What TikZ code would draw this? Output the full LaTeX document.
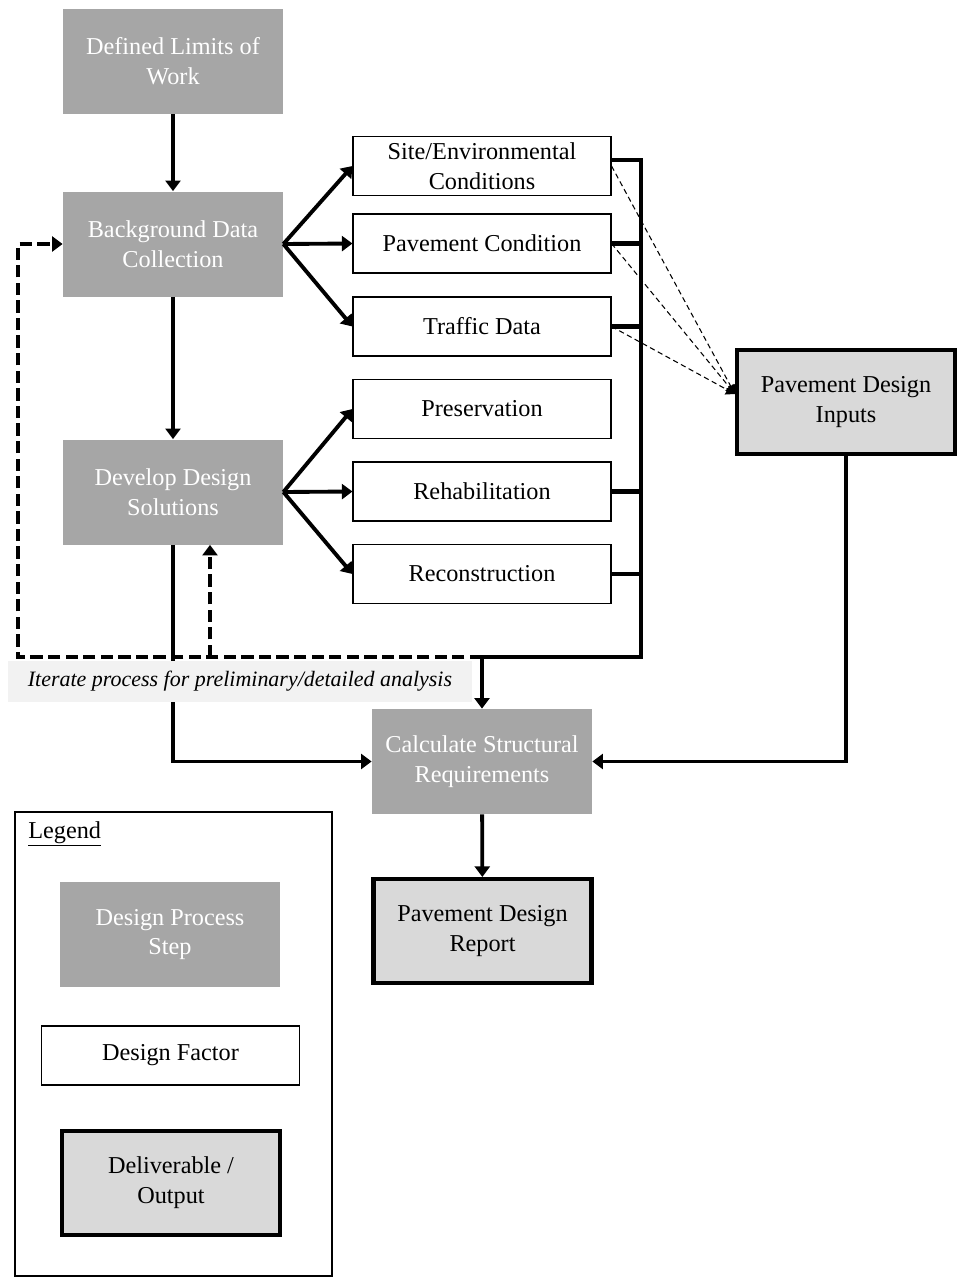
\documentclass[tikz,border=0pt]{standalone}
\usepackage{fontspec}
\setmainfont{Liberation Serif}
\usetikzlibrary{arrows.meta,positioning,calc}
\definecolor{stepgray}{RGB}{166,166,166}
\definecolor{outgray}{RGB}{217,217,217}
\definecolor{notegray}{RGB}{242,242,242}

\begin{document}
\begin{tikzpicture}[
        >={Triangle[length=6pt,width=8.5pt]},
        every node/.style={font=\fontsize{13.8}{17}\selectfont,align=center},
        process/.style={rectangle,fill=stepgray,text=white,minimum width=4.4cm,minimum height=2.1cm,inner sep=2pt},
        factor/.style={rectangle,draw,line width=0.6pt,minimum width=5.16cm,minimum height=1.18cm,inner sep=1pt},
        deliverable/.style={rectangle,draw,fill=outgray,line width=2.3pt,minimum width=4.36cm,minimum height=2.08cm,inner sep=2pt},
        flow/.style={->,line width=2.2pt},
        link/.style={line width=2.4pt},
        iterate/.style={->,line width=2.2pt,dash pattern=on 7pt off 3pt},
        feed/.style={-{Triangle[length=5pt,width=6pt]},line width=0.6pt,dash pattern=on 3pt off 2pt}
      ]
        \useasboundingbox (0,0) rectangle (19.18,-25.66);

        \node[process]     (limits)     at (3.46,-1.23)  {Defined Limits of\\Work};
        \node[process]     (background) at (3.46,-4.88)  {Background Data\\Collection};
        \node[process]     (develop)    at (3.46,-9.84)  {Develop Design\\Solutions};
        \node[process]     (calculate)  at (9.64,-15.23) {Calculate Structural\\Requirements};
        \node[factor]      (site)       at (9.64,-3.32)  {Site/Environmental\\Conditions};
        \node[factor]      (pavcond)    at (9.64,-4.87)  {Pavement Condition};
        \node[factor]      (traffic)    at (9.64,-6.53)  {Traffic Data};
        \node[factor]      (preserv)    at (9.64,-8.18)  {Preservation};
        \node[factor]      (rehab)      at (9.64,-9.83)  {Rehabilitation};
        \node[factor]      (recon)      at (9.64,-11.48) {Reconstruction};
        \node[deliverable] (inputs)     at (16.92,-8.04) {Pavement Design\\Inputs};
        \node[deliverable] (report)     at (9.65,-18.62) {Pavement Design\\Report};

        \coordinate (busend)  at (12.82,-13.14);
        \coordinate (merge)   at (9.64,-13.14);
        \coordinate (loopend) at (0.36,-13.14);
        \coordinate (iterup)  at (4.20,-13.14);

        \draw[flow] (limits) -- (background);
        \draw[flow] (background) -- (develop);
        \foreach \f in {site,pavcond,traffic}
          \draw[flow] (background.east) -- (\f.west);
        \foreach \f in {preserv,rehab,recon}
          \draw[flow] (develop.east) -- (\f.west);

        % factors collected on the right
        \draw[link] ($(site.east)+(0,0.12)$) -| (busend) -- (merge);
        \foreach \f in {pavcond,traffic,rehab,recon}
          \draw[link] (\f.east) -- (\f.east -| busend);
        \draw[flow] (merge) -- (calculate);

        \foreach \f in {site,pavcond,traffic}
          \draw[feed] (\f.east) -- ($(inputs.west)+(0,0.16)$);

        \draw[flow] (inputs.south) |- (calculate.east);
        \draw[flow] (develop.south) |- (calculate.west);
        \draw[flow] (calculate) -- (report);

        % iteration loop
        \draw[iterate] (merge) -- (loopend) |- (background.west);
        \draw[iterate] (iterup) -- (iterup |- develop.south);
        \node[fill=notegray,minimum width=9.28cm,minimum height=0.82cm,font=\fontsize{12.5}{14}\selectfont\itshape] (note) at (4.80,-13.63) {Iterate process for preliminary/detailed analysis};

        % legend
        \node[draw,line width=0.6pt,minimum width=6.34cm,minimum height=9.28cm] (legend) at (3.47,-20.88) {};
        \node[anchor=west,inner sep=0pt] (legendtitle) at (0.56,-16.68) {\underline{Legend}};
        \node[process]     (keystep)   at (3.40,-18.69) {Design Process\\Step};
        \node[factor]      (keyfactor) at (3.41,-21.11) {Design Factor};
        \node[deliverable] (keyoutput) at (3.42,-23.66) {Deliverable /\\Output};
      \end{tikzpicture}
\end{document}
